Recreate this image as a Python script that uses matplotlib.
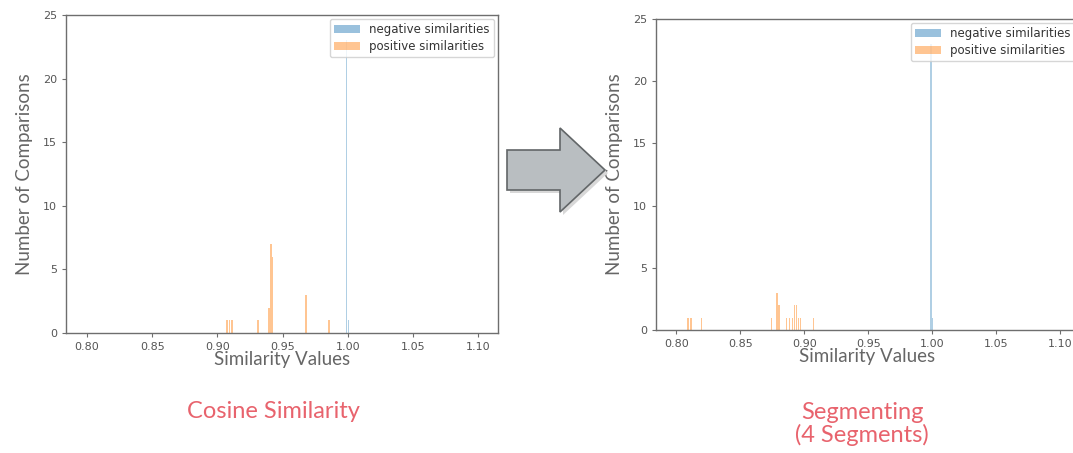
import matplotlib.pyplot as plt
from matplotlib.patches import Polygon, Patch

W, H = 1073, 453

# bin centres / counts
cos_pos_x = [0.9074, 0.9093, 0.9113, 0.9312, 0.9397, 0.9410, 0.9422, 0.9680, 0.9855]
cos_pos_n = [1, 1, 1, 1, 2, 7, 6, 3, 1]
cos_neg_x = [0.9992, 1.0005]
cos_neg_n = [23, 1]

seg_pos_x = [0.8090, 0.8115, 0.8194, 0.8742, 0.8786, 0.8802, 0.8860, 0.8885,
             0.8910, 0.8925, 0.8940, 0.8955, 0.8970, 0.9074]
seg_pos_n = [1, 1, 1, 1, 3, 2, 1, 1, 1, 2, 2, 1, 1, 1]
seg_neg_x = [0.9992, 1.0005]
seg_neg_n = [23, 1]

yticks = [0, 5, 10, 15, 20, 25]
xticks = [0.80, 0.85, 0.90, 0.95, 1.00, 1.05, 1.10]

NEG = '#1f77b4'
POS = '#ff7f0e'
GRAY_TXT = '#555555'
SPINE = '#6e6e6e'
RED = '#e8636d'

fig = plt.figure(figsize=(W / 100, H / 100), dpi=100)


def px_axes(x0, x1, ytop, ybot):
    return fig.add_axes([x0 / W, 1 - ybot / H, (x1 - x0) / W, (ybot - ytop) / H])


def style(ax, pos_x, pos_n, neg_x, neg_n):
    ax.bar(neg_x, neg_n, width=0.0009, color=NEG, alpha=0.35, linewidth=0)
    ax.bar(pos_x, pos_n, width=0.0011, color=POS, alpha=0.45, linewidth=0)
    ax.set_xlim(0.784, 1.115)
    ax.set_ylim(0, 25)
    ax.set_xticks(xticks)
    ax.set_xticklabels([f'{v:.2f}' for v in xticks])
    ax.set_yticks(yticks)
    ax.tick_params(labelsize=8, colors=GRAY_TXT, length=3, color=SPINE)
    for s in ax.spines.values():
        s.set_color(SPINE)
        s.set_linewidth(1.0)
    ax.set_xlabel('Similarity Values', family='Lato', fontsize=13.5,
                  color='#666666', labelpad=-1)
    ax.set_ylabel('Number of Comparisons', family='Lato', fontsize=13.5,
                  color='#666666', labelpad=7)
    handles = [Patch(facecolor=NEG, edgecolor='none', alpha=0.45),
               Patch(facecolor=POS, edgecolor='none', alpha=0.45)]
    ax.legend(handles, ['negative similarities', 'positive similarities'],
              loc='upper right', fontsize=8.5, handlelength=2.2,
              borderaxespad=0.35, labelcolor='#333333', borderpad=0.35,
              labelspacing=0.3)


ax1 = px_axes(66, 498, 15, 333)
style(ax1, cos_pos_x, cos_pos_n, cos_neg_x, cos_neg_n)

ax2 = px_axes(656, 1079, 19, 330)
style(ax2, seg_pos_x, seg_pos_n, seg_neg_x, seg_neg_n)

# arrow between the two panels
arrow_px = [(507, 150), (560, 150), (560, 128), (605, 170),
            (560, 212), (560, 190), (507, 190)]
shadow = Polygon([((x + 3) / W, 1 - (y + 3) / H) for x, y in arrow_px],
                 closed=True, transform=fig.transFigure,
                 facecolor='#d8d8d8', edgecolor='none')
arrow = Polygon([(x / W, 1 - y / H) for x, y in arrow_px], closed=True,
                transform=fig.transFigure, facecolor='#b9bec1',
                edgecolor='#626668', linewidth=1.2)
fig.patches.extend([shadow, arrow])

fig.text(273 / W, 1 - 411 / H, 'Cosine Similarity', family='Lato',
         fontsize=17, color=RED, ha='center', va='center')
fig.text(862 / W, 1 - 424 / H, 'Segmenting\n(4 Segments)', family='Lato',
         fontsize=17, color=RED, ha='center', va='center', linespacing=1.05)

fig.savefig('out.png', dpi=100)
